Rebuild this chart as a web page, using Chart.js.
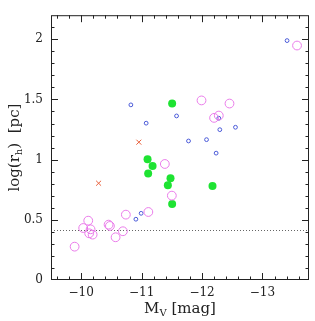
<!DOCTYPE html>
<html>
<head>
<meta charset="utf-8">
<script src="https://cdn.jsdelivr.net/npm/chart.js@4.4.1/dist/chart.umd.min.js"></script>
<style>
  body { margin: 0; background: #fff; }
  #wrap { width: 315px; height: 321px; }
</style>
</head>
<body>
<div id="wrap"><canvas id="chart"></canvas></div>
<script>
// M_V [mag] and log(r_h) [pc] for each group
const magentaX = [-10.116, -10.033, -10.155, -10.132, -10.189, -10.453, -10.475, -10.69, -10.569, -9.891,
  -10.739, -11.111, -11.384, -11.5, -11.991, -12.454, -12.199, -12.277, -13.572];
const magentaY = [0.493, 0.432, 0.421, 0.388, 0.377, 0.46, 0.449, 0.405, 0.355, 0.277,
  0.543, 0.565, 0.964, 0.701, 1.492, 1.466, 1.347, 1.366, 1.948];

const blueX = [-13.407, -10.822, -11.578, -11.075, -11.776, -12.074, -12.277, -12.294, -12.553, -12.233, -10.992, -10.905];
const blueY = [1.989, 1.455, 1.363, 1.303, 1.155, 1.166, 1.344, 1.249, 1.269, 1.054, 0.554, 0.505];

const greenX = [-11.505, -11.098, -11.181, -11.108, -11.478, -11.434, -12.173, -11.505];
const greenY = [1.466, 1.003, 0.948, 0.884, 0.845, 0.787, 0.781, 0.632];

const redX = [-10.954, -10.288];
const redY = [1.145, 0.804];

const limitY = 0.415;
const xRange = [-13.77, -9.5];
const yRange = [0, 2.2];

const pts = (xs, ys) => xs.map((x, i) => ({ x: x, y: ys[i] }));

const SERIF = "'DejaVu Serif', 'Liberation Serif', serif";

// dotted limit line, under the markers
const limitPlugin = {
  id: "limitPlugin",
  beforeDatasetsDraw(chart) {
    const { ctx, chartArea: a } = chart;
    const py = Math.round(chart.scales.y.getPixelForValue(limitY)) + 0.5;
    ctx.save();
    ctx.strokeStyle = "#666";
    ctx.lineWidth = 1;
    ctx.setLineDash([1, 2]);
    ctx.beginPath();
    ctx.moveTo(a.left, py);
    ctx.lineTo(a.right, py);
    ctx.stroke();
    ctx.restore();
  },
};

// frame with inward major/minor ticks on all four sides + axis titles
const framePlugin = {
  id: "framePlugin",
  afterDraw(chart) {
    const { ctx, chartArea: a } = chart;
    const sx = chart.scales.x, sy = chart.scales.y;
    ctx.save();
    ctx.strokeStyle = "#222";
    ctx.lineWidth = 1;
    ctx.strokeRect(a.left + 0.5, a.top + 0.5, a.right - a.left - 1, a.bottom - a.top - 1);
    ctx.beginPath();
    for (let k = -68; k <= -48; k++) {
      const px = Math.round(sx.getPixelForValue(k / 5)) + 0.5;
      const len = k % 5 === 0 ? 7 : 3.5;
      ctx.moveTo(px, a.bottom); ctx.lineTo(px, a.bottom - len);
      ctx.moveTo(px, a.top); ctx.lineTo(px, a.top + len);
    }
    for (let k = 1; k <= 21; k++) {
      const py = Math.round(sy.getPixelForValue(k / 10)) + 0.5;
      const len = k % 5 === 0 ? 7 : 3.5;
      ctx.moveTo(a.left, py); ctx.lineTo(a.left + len, py);
      ctx.moveTo(a.right, py); ctx.lineTo(a.right - len, py);
    }
    ctx.stroke();

    // axis titles with subscripts
    ctx.fillStyle = "#222";
    ctx.textBaseline = "alphabetic";
    const drawParts = (parts, cx, cy) => {
      let w = 0;
      parts.forEach((p) => { ctx.font = p.font; w += ctx.measureText(p.t).width; });
      let x = cx - w / 2;
      parts.forEach((p) => {
        ctx.font = p.font;
        ctx.fillText(p.t, x, cy + p.dy);
        x += ctx.measureText(p.t).width;
      });
    };
    const big = "15px " + SERIF, small = "10px " + SERIF;
    drawParts([
      { t: "M", font: big, dy: 0 },
      { t: "V", font: small, dy: 3 },
      { t: " [mag]", font: big, dy: 0 },
    ], (a.left + a.right) / 2, 313);

    ctx.translate(19, (a.top + a.bottom) / 2);
    ctx.rotate(-Math.PI / 2);
    drawParts([
      { t: "log(r", font: big, dy: 0 },
      { t: "h", font: small, dy: 3 },
      { t: ")  [pc]", font: big, dy: 0 },
    ], 0, 0);
    ctx.restore();
  },
};

new Chart(document.getElementById("chart"), {
  type: "scatter",
  data: {
    datasets: [
      {
        data: pts(magentaX, magentaY),
        pointStyle: "circle",
        pointRadius: 4.4,
        borderWidth: 1,
        borderColor: "#ea7cea",
        backgroundColor: "rgba(0,0,0,0)",
      },
      {
        data: pts(blueX, blueY),
        pointStyle: "circle",
        pointRadius: 1.9,
        borderWidth: 1,
        borderColor: "#4a5ad8",
        backgroundColor: "rgba(0,0,0,0)",
      },
      {
        data: pts(greenX, greenY),
        pointStyle: "circle",
        pointRadius: 4,
        borderWidth: 0,
        backgroundColor: "#1ee332",
      },
      {
        data: pts(redX, redY),
        pointStyle: "crossRot",
        pointRadius: 3.5,
        borderWidth: 1,
        borderColor: "#e8603c",
      },
    ],
  },
  options: {
    responsive: true,
    maintainAspectRatio: false,
    animation: false,
    layout: { padding: { top: 15, right: 6, left: 0, bottom: 0 } },
    plugins: { legend: { display: false }, tooltip: { enabled: false } },
    scales: {
      x: {
        type: "linear",
        reverse: true,
        min: xRange[0],
        max: xRange[1],
        grid: { display: false, drawTicks: false },
        border: { display: false },
        ticks: {
          stepSize: 1,
          includeBounds: false,
          padding: 6,
          color: "#222",
          font: { family: SERIF, size: 12 },
          maxRotation: 0,
          callback: (v) => "\u2212" + Math.abs(v),
        },
        afterFit: (s) => { s.height = 41; },
      },
      y: {
        min: yRange[0],
        max: yRange[1],
        grid: { display: false, drawTicks: false },
        border: { display: false },
        ticks: {
          stepSize: 0.5,
          includeBounds: false,
          padding: 8,
          color: "#222",
          font: { family: SERIF, size: 12 },
          callback: (v) => String(Math.round(v * 10) / 10),
        },
        afterFit: (s) => { s.width = 51; },
      },
    },
  },
  plugins: [limitPlugin, framePlugin],
});
</script>
</body>
</html>
